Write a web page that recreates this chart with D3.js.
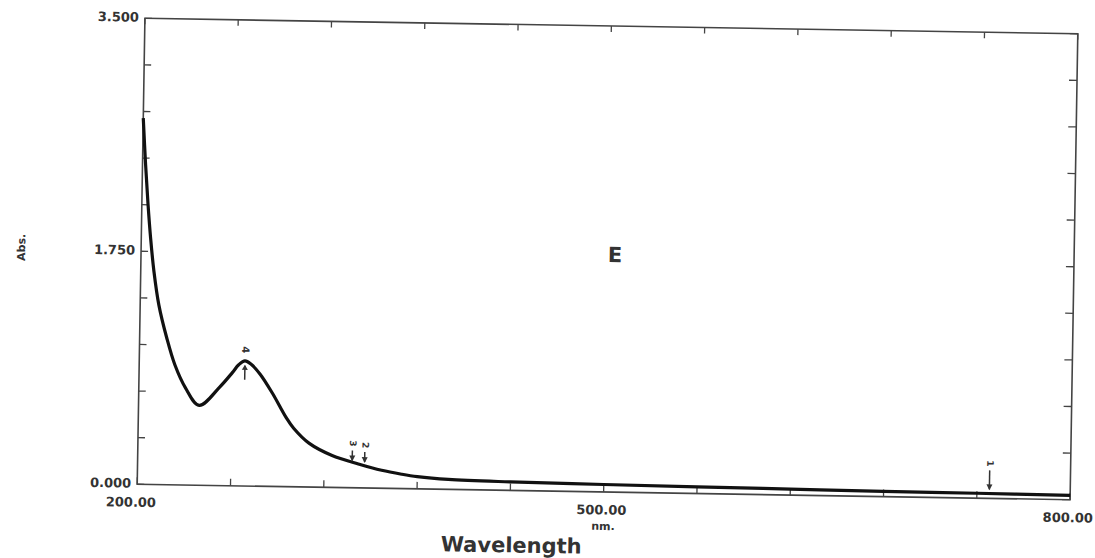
<!DOCTYPE html>
<meta charset="utf-8">
<script src="https://d3js.org/d3.v7.min.js"></script>
<style>
  body { margin: 0; background: #fff; }
  text { font-family: "DejaVu Sans", sans-serif; font-weight: bold; fill: #333; }
</style>
<div id="spectrum"></div>
<script>
// spectrum (nm, Abs.)
const wavelength = [200, 202, 204, 206, 208.5, 212, 217.5, 223, 230, 239, 252, 260, 264, 268, 272, 278, 286, 295, 300, 310, 325, 342, 357, 370, 380, 400, 440, 500, 560, 620, 680, 740, 800];
const absorbance = [2.75, 2.40, 2.10, 1.85, 1.60, 1.35, 1.10, 0.90, 0.73, 0.60, 0.74, 0.85, 0.91, 0.94, 0.915, 0.84, 0.70, 0.52, 0.44, 0.33, 0.24, 0.18, 0.135, 0.108, 0.092, 0.075, 0.064, 0.056, 0.05, 0.045, 0.04, 0.037, 0.033];

// peak / valley picks
const pickNo = ["1", "2", "3", "4"];
const pickNm = [748, 346, 338, 268];
const pickAbs = [0.045, 0.172, 0.183, 0.94];

const yTickLabels = ["0.000", "1.750", "3.500"];
const xTickLabels = ["200.00", "500.00", "800.00"];

const W = 1095, H = 558;
const margin = {left: 141, top: 26},
    width = 933,
    height = 466;

const svg = d3.select("#spectrum")
  .append("svg")
    .attr("width", W)
    .attr("height", H);

// the scan is slightly tilted
const g = svg.append("g")
    .attr("transform", `rotate(0.95, ${margin.left + width / 2}, ${margin.top + height / 2}) translate(${margin.left},${margin.top})`);

const x = d3.scaleLinear().domain([200, 800]).range([0, width]);
const y = d3.scaleLinear().domain([0, 3.5]).range([height, 0]);

const xt = d3.range(200, 801, 60);
const yt = d3.range(0, 3.501, 0.35);

// frame
g.append("rect")
  .attr("width", width).attr("height", height)
  .attr("fill", "none").attr("stroke", "#444").attr("stroke-width", 1.6);

// inward ticks
g.append("g").selectAll("line").data(yt).join("line")
  .attr("x1", 0).attr("x2", 7).attr("y1", d => y(d)).attr("y2", d => y(d))
  .attr("stroke", "#444").attr("stroke-width", 1.3);
g.append("g").selectAll("line").data(yt).join("line")
  .attr("x1", width).attr("x2", width - 8).attr("y1", d => y(d)).attr("y2", d => y(d))
  .attr("stroke", "#444").attr("stroke-width", 1.3);
g.append("g").selectAll("line").data(xt).join("line")
  .attr("x1", d => x(d)).attr("x2", d => x(d)).attr("y1", height).attr("y2", height - 7)
  .attr("stroke", "#444").attr("stroke-width", 1.3);
g.append("g").selectAll("line").data(xt).join("line")
  .attr("x1", d => x(d)).attr("x2", d => x(d)).attr("y1", 0).attr("y2", 6)
  .attr("stroke", "#444").attr("stroke-width", 1.3);

// tick labels
g.append("g").selectAll("text").data(yTickLabels).join("text")
  .attr("x", -6).attr("y", d => y(+d))
  .attr("text-anchor", "end").attr("dominant-baseline", "middle")
  .attr("font-size", 13)
  .text(d => d);
g.append("g").selectAll("text").data(xTickLabels).join("text")
  .attr("x", (d, i) => x(+d) + [-6, -2, -2][i]).attr("y", height + 19)
  .attr("text-anchor", "middle").attr("dominant-baseline", "middle")
  .attr("font-size", 13)
  .text(d => d);

g.append("text")
  .attr("x", x(500)).attr("y", height + 35)
  .attr("text-anchor", "middle").attr("dominant-baseline", "middle")
  .attr("font-size", 11)
  .text("nm.");

g.append("text")
  .attr("x", 375).attr("y", height + 56)
  .attr("text-anchor", "middle").attr("dominant-baseline", "middle")
  .attr("font-size", 21).attr("fill", "#111")
  .text("Wavelength");

g.append("text")
  .attr("transform", `translate(-119,${height / 2 - 2}) rotate(-90)`)
  .attr("text-anchor", "middle").attr("dominant-baseline", "middle")
  .attr("font-size", 11)
  .text("Abs.");

g.append("text")
  .attr("x", 474).attr("y", 230)
  .attr("text-anchor", "middle").attr("dominant-baseline", "middle")
  .attr("font-size", 21).attr("fill", "#222")
  .text("E");

// the spectrum
const data = wavelength.map((d, i) => ({nm: d, abs: absorbance[i]}));
g.append("path")
  .datum(data)
  .attr("fill", "none")
  .attr("stroke", "#111")
  .attr("stroke-width", 3.2)
  .attr("stroke-linejoin", "round")
  .attr("d", d3.line()
    .x(d => x(d.nm))
    .y(d => y(d.abs))
    .curve(d3.curveCatmullRom.alpha(0.5)));

// pick markers
const picks = pickNo.map((d, i) => ({no: d, nm: pickNm[i], abs: pickAbs[i]}));
const mk = g.append("g").selectAll("g").data(picks).join("g")
  .attr("transform", d => `translate(${x(d.nm)},${y(d.abs)})`);

mk.each(function(d) {
  const m = d3.select(this);
  if (d.no === "4") {
    // peak: arrow below pointing up
    m.append("line").attr("x1", 0).attr("x2", 0).attr("y1", 5).attr("y2", 19)
      .attr("stroke", "#333").attr("stroke-width", 1.5);
    m.append("path").attr("d", "M-3,9 L0,4 L3,9 Z").attr("fill", "#333");
    m.append("text")
      .attr("transform", "translate(0,-11) rotate(90)")
      .attr("text-anchor", "middle").attr("dominant-baseline", "middle")
      .attr("font-size", 10).attr("fill", "#222")
      .text(d.no);
  } else {
    const top = d.no === "1" ? -22 : -13;
    m.append("line").attr("x1", 0).attr("x2", 0).attr("y1", top).attr("y2", -3)
      .attr("stroke", "#333").attr("stroke-width", 1.5);
    m.append("path").attr("d", "M-3,-8 L0,-2 L3,-8 Z").attr("fill", "#333");
    m.append("text")
      .attr("transform", `translate(0,${top - 7}) rotate(90)`)
      .attr("text-anchor", "middle").attr("dominant-baseline", "middle")
      .attr("font-size", 9).attr("fill", "#222")
      .text(d.no);
  }
});
</script>
